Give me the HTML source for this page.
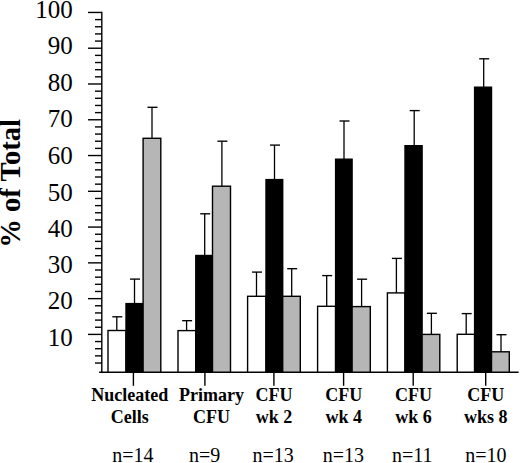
<!DOCTYPE html><html><head><meta charset="utf-8"><style>
html,body{margin:0;padding:0;background:#fff;}
body{width:520px;height:463px;overflow:hidden;}
svg{display:block;}
text{font-family:"Liberation Serif",serif;fill:#000;}
</style></head><body>
<svg width="520" height="463" viewBox="0 0 520 463">
<g stroke="#000" stroke-width="1.40" fill="none">
<line x1="101.80" y1="11.75" x2="101.80" y2="372.20"/>
<line x1="88" y1="334.40" x2="101.80" y2="334.40"/>
<line x1="88" y1="298.63" x2="101.80" y2="298.63"/>
<line x1="88" y1="262.86" x2="101.80" y2="262.86"/>
<line x1="88" y1="227.08" x2="101.80" y2="227.08"/>
<line x1="88" y1="191.31" x2="101.80" y2="191.31"/>
<line x1="88" y1="155.54" x2="101.80" y2="155.54"/>
<line x1="88" y1="119.77" x2="101.80" y2="119.77"/>
<line x1="88" y1="83.99" x2="101.80" y2="83.99"/>
<line x1="88" y1="48.22" x2="101.80" y2="48.22"/>
<line x1="88" y1="12.45" x2="101.80" y2="12.45"/>
<line x1="95" y1="363.02" x2="101.80" y2="363.02"/>
<line x1="95" y1="355.86" x2="101.80" y2="355.86"/>
<line x1="95" y1="348.71" x2="101.80" y2="348.71"/>
<line x1="95" y1="341.55" x2="101.80" y2="341.55"/>
<line x1="95" y1="327.25" x2="101.80" y2="327.25"/>
<line x1="95" y1="320.09" x2="101.80" y2="320.09"/>
<line x1="95" y1="312.94" x2="101.80" y2="312.94"/>
<line x1="95" y1="305.78" x2="101.80" y2="305.78"/>
<line x1="95" y1="291.47" x2="101.80" y2="291.47"/>
<line x1="95" y1="284.32" x2="101.80" y2="284.32"/>
<line x1="95" y1="277.16" x2="101.80" y2="277.16"/>
<line x1="95" y1="270.01" x2="101.80" y2="270.01"/>
<line x1="95" y1="255.70" x2="101.80" y2="255.70"/>
<line x1="95" y1="248.55" x2="101.80" y2="248.55"/>
<line x1="95" y1="241.39" x2="101.80" y2="241.39"/>
<line x1="95" y1="234.24" x2="101.80" y2="234.24"/>
<line x1="95" y1="219.93" x2="101.80" y2="219.93"/>
<line x1="95" y1="212.77" x2="101.80" y2="212.77"/>
<line x1="95" y1="205.62" x2="101.80" y2="205.62"/>
<line x1="95" y1="198.47" x2="101.80" y2="198.47"/>
<line x1="95" y1="184.16" x2="101.80" y2="184.16"/>
<line x1="95" y1="177.00" x2="101.80" y2="177.00"/>
<line x1="95" y1="169.85" x2="101.80" y2="169.85"/>
<line x1="95" y1="162.69" x2="101.80" y2="162.69"/>
<line x1="95" y1="148.38" x2="101.80" y2="148.38"/>
<line x1="95" y1="141.23" x2="101.80" y2="141.23"/>
<line x1="95" y1="134.08" x2="101.80" y2="134.08"/>
<line x1="95" y1="126.92" x2="101.80" y2="126.92"/>
<line x1="95" y1="112.61" x2="101.80" y2="112.61"/>
<line x1="95" y1="105.46" x2="101.80" y2="105.46"/>
<line x1="95" y1="98.30" x2="101.80" y2="98.30"/>
<line x1="95" y1="91.15" x2="101.80" y2="91.15"/>
<line x1="95" y1="76.84" x2="101.80" y2="76.84"/>
<line x1="95" y1="69.69" x2="101.80" y2="69.69"/>
<line x1="95" y1="62.53" x2="101.80" y2="62.53"/>
<line x1="95" y1="55.38" x2="101.80" y2="55.38"/>
<line x1="95" y1="41.07" x2="101.80" y2="41.07"/>
<line x1="95" y1="33.91" x2="101.80" y2="33.91"/>
<line x1="95" y1="26.76" x2="101.80" y2="26.76"/>
<line x1="95" y1="19.60" x2="101.80" y2="19.60"/>
<line x1="99.1" y1="372.20" x2="518.6" y2="372.20"/>
<line x1="133.40" y1="372.20" x2="133.40" y2="385.8"/>
<line x1="204.90" y1="372.20" x2="204.90" y2="385.8"/>
<line x1="273.90" y1="372.20" x2="273.90" y2="385.8"/>
<line x1="343.60" y1="372.20" x2="343.60" y2="385.8"/>
<line x1="413.20" y1="372.20" x2="413.20" y2="385.8"/>
<line x1="485.70" y1="372.20" x2="485.70" y2="385.8"/>
</g>
<line x1="116.80" y1="316.80" x2="116.80" y2="330.50" stroke="#000" stroke-width="1.3"/>
<line x1="112.30" y1="316.80" x2="122.30" y2="316.80" stroke="#000" stroke-width="1.35"/>
<rect x="108.00" y="330.50" width="18.00" height="41.70" fill="#fff" stroke="#000" stroke-width="1.40"/>
<line x1="134.50" y1="279.10" x2="134.50" y2="303.60" stroke="#000" stroke-width="1.3"/>
<line x1="130.00" y1="279.10" x2="140.00" y2="279.10" stroke="#000" stroke-width="1.35"/>
<rect x="126.00" y="303.60" width="17.10" height="68.60" fill="#000" stroke="#000" stroke-width="1.40"/>
<line x1="152.00" y1="107.30" x2="152.00" y2="138.30" stroke="#000" stroke-width="1.3"/>
<line x1="147.50" y1="107.30" x2="157.50" y2="107.30" stroke="#000" stroke-width="1.35"/>
<rect x="143.10" y="138.30" width="17.70" height="233.90" fill="#b6b6b6" stroke="#000" stroke-width="1.40"/>
<line x1="186.60" y1="320.70" x2="186.60" y2="330.60" stroke="#000" stroke-width="1.3"/>
<line x1="182.10" y1="320.70" x2="192.10" y2="320.70" stroke="#000" stroke-width="1.35"/>
<rect x="178.00" y="330.60" width="17.80" height="41.60" fill="#fff" stroke="#000" stroke-width="1.40"/>
<line x1="204.70" y1="213.80" x2="204.70" y2="255.50" stroke="#000" stroke-width="1.3"/>
<line x1="200.20" y1="213.80" x2="210.20" y2="213.80" stroke="#000" stroke-width="1.35"/>
<rect x="195.80" y="255.50" width="16.70" height="116.70" fill="#000" stroke="#000" stroke-width="1.40"/>
<line x1="221.90" y1="141.20" x2="221.90" y2="186.20" stroke="#000" stroke-width="1.3"/>
<line x1="217.40" y1="141.20" x2="227.40" y2="141.20" stroke="#000" stroke-width="1.35"/>
<rect x="212.50" y="186.20" width="18.00" height="186.00" fill="#b6b6b6" stroke="#000" stroke-width="1.40"/>
<line x1="256.50" y1="272.10" x2="256.50" y2="296.30" stroke="#000" stroke-width="1.3"/>
<line x1="252.00" y1="272.10" x2="262.00" y2="272.10" stroke="#000" stroke-width="1.35"/>
<rect x="247.60" y="296.30" width="18.40" height="75.90" fill="#fff" stroke="#000" stroke-width="1.40"/>
<line x1="274.50" y1="145.10" x2="274.50" y2="179.60" stroke="#000" stroke-width="1.3"/>
<line x1="270.00" y1="145.10" x2="280.00" y2="145.10" stroke="#000" stroke-width="1.35"/>
<rect x="266.00" y="179.60" width="16.70" height="192.60" fill="#000" stroke="#000" stroke-width="1.40"/>
<line x1="291.70" y1="268.70" x2="291.70" y2="296.30" stroke="#000" stroke-width="1.3"/>
<line x1="287.20" y1="268.70" x2="297.20" y2="268.70" stroke="#000" stroke-width="1.35"/>
<rect x="282.70" y="296.30" width="17.60" height="75.90" fill="#b6b6b6" stroke="#000" stroke-width="1.40"/>
<line x1="326.70" y1="275.60" x2="326.70" y2="306.30" stroke="#000" stroke-width="1.3"/>
<line x1="322.20" y1="275.60" x2="332.20" y2="275.60" stroke="#000" stroke-width="1.35"/>
<rect x="317.60" y="306.30" width="18.00" height="65.90" fill="#fff" stroke="#000" stroke-width="1.40"/>
<line x1="344.00" y1="121.00" x2="344.00" y2="159.20" stroke="#000" stroke-width="1.3"/>
<line x1="339.50" y1="121.00" x2="349.50" y2="121.00" stroke="#000" stroke-width="1.35"/>
<rect x="335.60" y="159.20" width="16.50" height="213.00" fill="#000" stroke="#000" stroke-width="1.40"/>
<line x1="361.60" y1="279.20" x2="361.60" y2="306.60" stroke="#000" stroke-width="1.3"/>
<line x1="357.10" y1="279.20" x2="367.10" y2="279.20" stroke="#000" stroke-width="1.35"/>
<rect x="352.10" y="306.60" width="18.20" height="65.60" fill="#b6b6b6" stroke="#000" stroke-width="1.40"/>
<line x1="396.40" y1="258.40" x2="396.40" y2="292.90" stroke="#000" stroke-width="1.3"/>
<line x1="391.90" y1="258.40" x2="401.90" y2="258.40" stroke="#000" stroke-width="1.35"/>
<rect x="387.40" y="292.90" width="17.60" height="79.30" fill="#fff" stroke="#000" stroke-width="1.40"/>
<line x1="414.20" y1="110.60" x2="414.20" y2="145.70" stroke="#000" stroke-width="1.3"/>
<line x1="409.70" y1="110.60" x2="419.70" y2="110.60" stroke="#000" stroke-width="1.35"/>
<rect x="405.00" y="145.70" width="17.10" height="226.50" fill="#000" stroke="#000" stroke-width="1.40"/>
<line x1="431.40" y1="313.30" x2="431.40" y2="334.40" stroke="#000" stroke-width="1.3"/>
<line x1="426.90" y1="313.30" x2="436.90" y2="313.30" stroke="#000" stroke-width="1.35"/>
<rect x="422.10" y="334.40" width="17.70" height="37.80" fill="#b6b6b6" stroke="#000" stroke-width="1.40"/>
<line x1="466.20" y1="313.60" x2="466.20" y2="334.30" stroke="#000" stroke-width="1.3"/>
<line x1="461.70" y1="313.60" x2="471.70" y2="313.60" stroke="#000" stroke-width="1.35"/>
<rect x="457.20" y="334.30" width="17.40" height="37.90" fill="#fff" stroke="#000" stroke-width="1.40"/>
<line x1="483.70" y1="58.80" x2="483.70" y2="87.20" stroke="#000" stroke-width="1.3"/>
<line x1="479.20" y1="58.80" x2="489.20" y2="58.80" stroke="#000" stroke-width="1.35"/>
<rect x="474.60" y="87.20" width="16.90" height="285.00" fill="#000" stroke="#000" stroke-width="1.40"/>
<line x1="501.00" y1="334.70" x2="501.00" y2="351.80" stroke="#000" stroke-width="1.3"/>
<line x1="496.50" y1="334.70" x2="506.50" y2="334.70" stroke="#000" stroke-width="1.35"/>
<rect x="491.50" y="351.80" width="17.80" height="20.40" fill="#b6b6b6" stroke="#000" stroke-width="1.40"/>
<text x="72.8" y="17.60" font-size="25" text-anchor="end">100</text>
<text x="72.8" y="54.40" font-size="25" text-anchor="end">90</text>
<text x="72.8" y="91.40" font-size="25" text-anchor="end">80</text>
<text x="72.8" y="127.30" font-size="25" text-anchor="end">70</text>
<text x="72.8" y="164.10" font-size="25" text-anchor="end">60</text>
<text x="72.8" y="200.80" font-size="25" text-anchor="end">50</text>
<text x="72.8" y="237.00" font-size="25" text-anchor="end">40</text>
<text x="72.8" y="273.30" font-size="25" text-anchor="end">30</text>
<text x="72.8" y="309.30" font-size="25" text-anchor="end">20</text>
<text x="72.8" y="346.10" font-size="25" text-anchor="end">10</text>
<text transform="translate(20.3,183.4) rotate(-90)" font-size="28.6" font-weight="bold" text-anchor="middle">% of Total</text>
<text x="129.70" y="400.9" font-size="18" font-weight="bold" text-anchor="middle">Nucleated</text>
<text x="129.70" y="423.0" font-size="18" font-weight="bold" text-anchor="middle">Cells</text>
<text x="211.40" y="400.9" font-size="18" font-weight="bold" text-anchor="middle">Primary</text>
<text x="211.40" y="423.0" font-size="18" font-weight="bold" text-anchor="middle">CFU</text>
<text x="274.00" y="400.9" font-size="18" font-weight="bold" text-anchor="middle">CFU</text>
<text x="274.00" y="423.0" font-size="18" font-weight="bold" text-anchor="middle">wk 2</text>
<text x="343.80" y="400.9" font-size="18" font-weight="bold" text-anchor="middle">CFU</text>
<text x="343.80" y="423.0" font-size="18" font-weight="bold" text-anchor="middle">wk 4</text>
<text x="413.50" y="400.9" font-size="18" font-weight="bold" text-anchor="middle">CFU</text>
<text x="413.50" y="423.0" font-size="18" font-weight="bold" text-anchor="middle">wk 6</text>
<text x="485.70" y="400.9" font-size="18" font-weight="bold" text-anchor="middle">CFU</text>
<text x="485.70" y="423.0" font-size="18" font-weight="bold" text-anchor="middle">wks 8</text>
<text x="132.90" y="461.6" font-size="20" text-anchor="middle">n=14</text>
<text x="204.70" y="461.6" font-size="20" text-anchor="middle">n=9</text>
<text x="273.10" y="461.6" font-size="20" text-anchor="middle">n=13</text>
<text x="343.40" y="461.6" font-size="20" text-anchor="middle">n=13</text>
<text x="412.30" y="461.6" font-size="20" text-anchor="middle">n=11</text>
<text x="485.80" y="461.6" font-size="20" text-anchor="middle">n=10</text>
</svg></body></html>
